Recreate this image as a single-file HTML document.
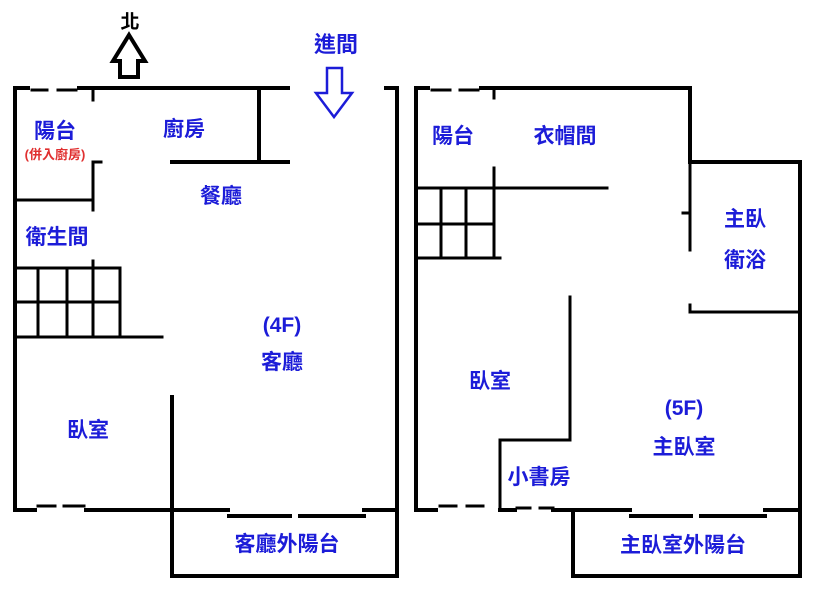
<!DOCTYPE html>
<html><head><meta charset="utf-8"><style>
html,body{margin:0;padding:0;background:#fff;}
svg{display:block}
text{font-family:"Liberation Sans","Noto Sans CJK TC",sans-serif;font-weight:bold;fill:#1c1cd8;font-size:21px;text-anchor:middle}
</style></head><body>
<svg width="813" height="595" viewBox="0 0 813 595">
<g stroke="#000" stroke-width="4" fill="none" stroke-linecap="square">
<path d="M15 510 V88 H28"/>
<path d="M32 90 H47 M58 90 H76" stroke-width="3"/>
<path d="M79 88 H288"/>
<path d="M386 88 H397 V576 H172 V397"/>
<path d="M259 88 V162 M172 162 H288"/>
<path d="M93 90 V100" stroke-width="3"/>
<path d="M101 162 H93 V210 M15 200 H93" stroke-width="3"/>
<path d="M93 261 V268" stroke-width="3"/>
<path d="M15 268 H120 V337 M15 302 H120 M38 268 V337 M67 268 V337 M93 268 V337 M15 337 H162" stroke-width="3"/>
<path d="M15 510 H35 M86 510 H172 H228 M364 510 H397"/>
<path d="M38 506 H55 M64 506 H84" stroke-width="3"/>
<path d="M229 516 H290 M300 516 H364"/>
<path d="M416 510 V88 H428"/>
<path d="M432 90 H450 M460 90 H478" stroke-width="3"/>
<path d="M481 88 H690 V162 H800 V576 H573 V510"/>
<path d="M494 90 V98 M494 168 V192" stroke-width="3"/>
<path d="M494 188 H607 M416 188 H494 V258 M416 224 H494 M441 188 V258 M466 188 V258 M416 258 H500" stroke-width="3"/>
<path d="M690 162 V250 M683 213 H690 M690 305 V312 H800" stroke-width="3"/>
<path d="M570 297 V440 H500 V510" stroke-width="3"/>
<path d="M416 510 H436 M500 510 H515 M553 510 H630 M765 510 H800"/>
<path d="M440 506 H456 M467 506 H483 M517 508 H530 M540 508 H553" stroke-width="3"/>
<path d="M631 516 H691 M701 516 H765"/>
</g>
<polygon points="129,35 145,61 138,61 138,77 120,77 120,61 113,61" fill="none" stroke="#000" stroke-width="4"/>
<text x="130" y="28" style="fill:#000;font-size:19px">北</text>
<text x="336" y="52" style="font-size:22px">進間</text>
<polygon points="327,68 342,68 342,93 352,93 334,117 316,93 327,93" fill="none" stroke="#1c1cd8" stroke-width="2.5"/>
<text x="55" y="138">陽台</text>
<text x="55" y="159" style="fill:#e03030;font-size:13px">(併入廚房)</text>
<text x="184" y="136">廚房</text>
<text x="221" y="203">餐廳</text>
<text x="57" y="244">衛生間</text>
<text x="282" y="332">(4F)</text>
<text x="282" y="369">客廳</text>
<text x="88" y="437">臥室</text>
<text x="287" y="551">客廳外陽台</text>
<text x="453" y="143">陽台</text>
<text x="565" y="143">衣帽間</text>
<text x="745" y="226">主臥</text>
<text x="745" y="267">衛浴</text>
<text x="490" y="388">臥室</text>
<text x="684" y="415">(5F)</text>
<text x="684" y="454">主臥室</text>
<text x="539" y="484">小書房</text>
<text x="683" y="552">主臥室外陽台</text>
</svg>
</body></html>
